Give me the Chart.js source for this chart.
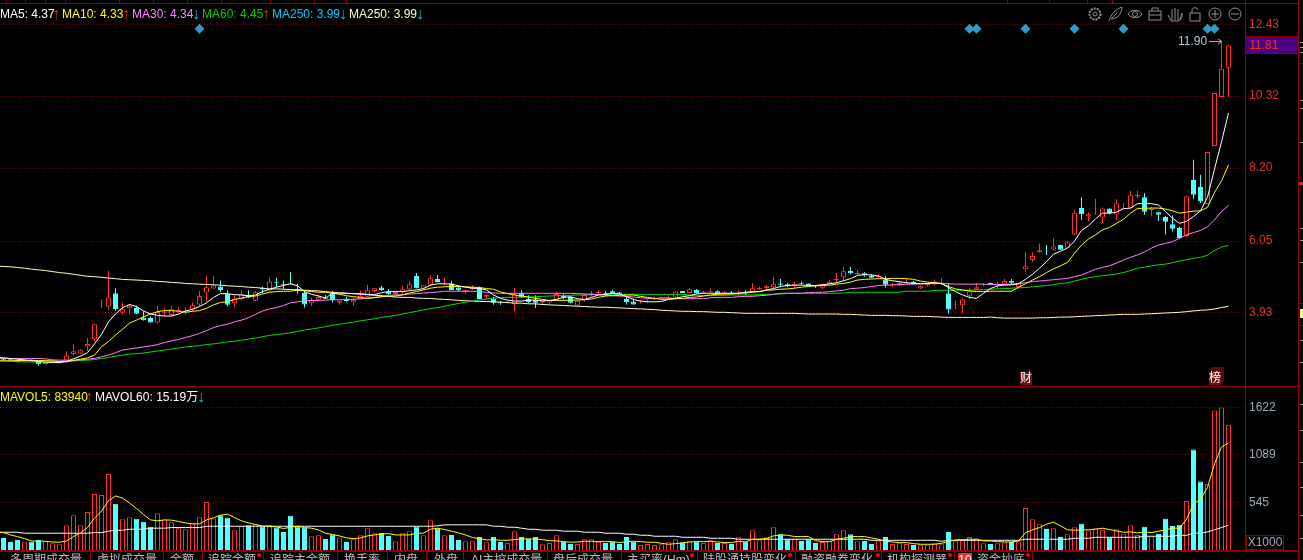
<!DOCTYPE html>
<html>
<head>
<meta charset="utf-8">
<title>K线图</title>
<script src="https://cdn.jsdelivr.net/npm/chart.js@4"></script>
<style>
  html, body { margin: 0; padding: 0; background: #000; width: 1303px; height: 560px; overflow: hidden; }
  body { position: relative; font-family: "Liberation Sans", Arial, "Noto Sans CJK SC", sans-serif; font-size: 12px; }
  canvas { position: absolute; left: 0; display: block; }
  #chart-price { top: 0; }
  #chart-volume { top: 387px; }
  .frame { position: absolute; background: #8a0000; }
  .sep { position: absolute; top: 552px; width: 1px; height: 8px; background: #8a0000; }
  .notch { position: absolute; top: 0; width: 1px; height: 3px; background: #8a0000; }
  .stray { position: absolute; left: 1300px; width: 3px; height: 1px; background: #999; }
  .txt { position: absolute; white-space: nowrap; line-height: 14px; }
  .arrow { position: absolute; white-space: nowrap; line-height: 14px; font-size: 16px; }
  .up { color: #e03030; }
  .down { color: #22b8e0; }
  .tab { position: absolute; top: 553px; height: 7px; overflow: hidden; white-space: nowrap; color: #c0c0c0; line-height: 14px; }
  .dot { position: absolute; top: 553px; width: 4px; height: 4px; border-radius: 2px; background: #f00; }
  .flag { position: absolute; top: 372px; height: 13px; line-height: 13px; width: 12px; text-align: center; color: #fff; background: #6a1010; }
  .icons { position: absolute; left: 1088px; top: 7px; }
</style>
</head>
<body>
<canvas id="chart-price" width="1303" height="386"></canvas>
<canvas id="chart-volume" width="1303" height="164"></canvas>

<div class="frame" style="left:0;top:3px;width:1298px;height:1px"></div>
<div class="frame" style="left:0;top:386px;width:1298px;height:1px"></div>
<div class="frame" style="left:0;top:550px;width:1298px;height:2px"></div>
<div class="frame" style="left:1245px;top:0;width:1px;height:552px"></div>
<div class="frame" style="left:1298px;top:0;width:1px;height:560px"></div>
<div class="frame" style="left:1298px;top:63px;width:5px;height:1px"></div>
<div class="frame" style="left:1298px;top:303px;width:5px;height:1px"></div>
<div class="frame" style="left:1298px;top:325px;width:5px;height:1px"></div>
<div class="frame" style="left:1299px;top:182px;width:4px;height:3px;background:#c03030"></div>
<div class="frame" style="left:1300px;top:309px;width:3px;height:9px;background:#ffff80"></div>

<div class="stray" style="top:42px"></div><div class="stray" style="top:47px"></div><div class="stray" style="top:52px"></div>
<div class="stray" style="top:100px"></div><div class="stray" style="top:108px"></div><div class="stray" style="top:142px"></div>
<div class="stray" style="top:228px"></div><div class="stray" style="top:240px"></div><div class="stray" style="top:262px"></div>
<div class="stray" style="top:340px"></div><div class="stray" style="top:362px"></div><div class="stray" style="top:404px"></div>
<div class="stray" style="top:430px"></div><div class="stray" style="top:462px"></div><div class="stray" style="top:487px"></div>
<div class="stray" style="top:515px"></div><div class="stray" style="top:538px"></div>

<div class="notch" style="left:6px"></div><div class="notch" style="left:25px"></div><div class="notch" style="left:45px"></div>
<div class="notch" style="left:65px"></div><div class="notch" style="left:119px"></div><div class="notch" style="left:153px"></div>
<div class="notch" style="left:187px"></div><div class="notch" style="left:221px"></div><div class="notch" style="left:270px"></div>
<div class="notch" style="left:314px"></div><div class="notch" style="left:346px"></div><div class="notch" style="left:1007px"></div>
<div class="notch" style="left:1049px"></div><div class="notch" style="left:1087px"></div><div class="notch" style="left:1112px"></div>

<div class="txt" style="left:0;top:7px;color:#fff">MA5: 4.37</div><div class="arrow up" style="left:52px;top:7px">↑</div>
<div class="txt" style="left:62px;top:7px;color:#ff0">MA10: 4.33</div><div class="arrow up" style="left:122px;top:7px">↑</div>
<div class="txt" style="left:132px;top:7px;color:#ff80ff">MA30: 4.34</div><div class="arrow down" style="left:192px;top:7px">↓</div>
<div class="txt" style="left:202px;top:7px;color:#00d000">MA60: 4.45</div><div class="arrow up" style="left:262px;top:7px">↑</div>
<div class="txt" style="left:272px;top:7px;color:#00c8ff">MA250: 3.99</div><div class="arrow down" style="left:339px;top:7px">↓</div>
<div class="txt" style="left:349px;top:7px;color:#ffffc8">MA250: 3.99</div><div class="arrow down" style="left:416px;top:7px">↓</div>

<div class="txt" style="left:0;top:390px;color:#ff0">MAVOL5: 83940</div><div class="arrow up" style="left:85px;top:390px">↑</div>
<div class="txt" style="left:95px;top:390px;color:#fff">MAVOL60: 15.19万</div><div class="arrow down" style="left:197px;top:390px">↓</div>

<div class="txt" style="left:1178px;top:34px;color:#b4c4d8">11.90</div>
<svg style="position:absolute;left:1208px;top:38px" width="15" height="7"><path d="M1 3.500H14M10 1L14 3.500L10 6" stroke="#aaa" fill="none"/></svg>

<div class="txt" style="left:1246px;top:36px;width:52px;height:16px;line-height:16px;background:#4b0082;border-top:1px solid #8a0000;border-bottom:1px solid #8a0000;color:#e03030;text-indent:3px">11.81</div>
<div class="txt" style="left:1246px;top:535px;width:36px;height:13px;line-height:13px;border:1px solid #8a0000;color:#9aa8b8;text-align:center">X1000</div>

<div class="frame" style="left:1211px;top:367px;width:13px;height:15px;background:#5a0c0c"></div>
<div class="flag" style="left:1020px">财</div>
<div class="flag" style="left:1209px">榜</div>

<svg class="icons" width="156" height="16" fill="none" stroke="#909090">
  <circle cx="7" cy="7" r="5.500" stroke-width="2" stroke-dasharray="2 1"/><circle cx="7" cy="7" r="2"/>
  <path d="M21 14C23 7 28 2 34 0C34 7 29 12 23 12M23 12L29 6"/>
  <path d="M40 7C43 2 51 2 54 7C51 12 43 12 40 7Z"/><circle cx="47" cy="7" r="2.500"/>
  <rect x="61" y="4" width="12" height="9"/><path d="M64 4V1H70V4M61 8H73"/>
  <path d="M83 14L80 8M84 13V2M87 13V1M90 13V2M92 13L94 6V10L91 14H83"/>
  <rect x="102" y="6" width="10" height="8"/><path d="M104 6V3C104 0 110 0 110 3"/>
  <circle cx="127" cy="7" r="6"/><path d="M123 7H131M127 3V11"/>
  <circle cx="147" cy="7" r="6"/><path d="M143 7H151"/>
</svg>

<div class="tab" style="left:10px">多周期成交量</div>
<div class="tab" style="left:97px">虚拟成交量</div>
<div class="tab" style="left:170px">金额</div>
<div class="tab" style="left:208px">追踪金额</div><div class="dot" style="left:257px"></div>
<div class="tab" style="left:270px">追踪主金额</div>
<div class="tab" style="left:344px">换手率</div>
<div class="tab" style="left:394px">内盘</div>
<div class="tab" style="left:434px">外盘</div>
<div class="tab" style="left:471px">AI主控成交量</div>
<div class="tab" style="left:553px">盘后成交量</div>
<div class="tab" style="left:627px">主买率(Hm)</div><div class="dot" style="left:690px"></div>
<div class="tab" style="left:703px">陆股通持股变化</div><div class="dot" style="left:788px"></div>
<div class="tab" style="left:801px">融资融券变化</div><div class="dot" style="left:876px"></div>
<div class="tab" style="left:887px">机构探测器</div><div class="dot" style="left:948px"></div>
<div class="tab" style="left:958px;width:14px;background:#f03030;color:#fff;text-align:center">10</div>
<div class="tab" style="left:977px">资金抄底</div><div class="dot" style="left:1026px"></div>

<div class="sep" style="left:90px"></div><div class="sep" style="left:163px"></div><div class="sep" style="left:202px"></div>
<div class="sep" style="left:263px"></div><div class="sep" style="left:337px"></div><div class="sep" style="left:387px"></div>
<div class="sep" style="left:426px"></div><div class="sep" style="left:463px"></div><div class="sep" style="left:547px"></div>
<div class="sep" style="left:621px"></div><div class="sep" style="left:697px"></div><div class="sep" style="left:795px"></div>
<div class="sep" style="left:881px"></div><div class="sep" style="left:954px"></div><div class="sep" style="left:1032px"></div>

<script>
// K line data, oldest day first.
// The first day sits just left of the window, only the MA lines reach in from it.
var opens = [2.60,2.59,2.57,2.55,2.50,2.56,2.49,2.43,2.51,2.45,2.53,
  2.72,2.74,2.94,3.16,4.32,4.12,4.51,3.94,4.07,4.08,
  3.80,3.78,3.65,3.94,3.87,3.98,3.97,4.03,4.18,4.53,
  4.65,4.71,4.50,4.22,4.34,4.46,4.29,4.67,4.59,4.85,
  4.79,4.80,4.64,4.52,4.21,4.32,4.39,4.51,4.23,4.34,
  4.25,4.33,4.41,4.58,4.68,4.56,4.49,4.55,4.63,5.02,
  4.65,4.76,4.93,4.82,4.80,4.68,4.58,4.63,4.68,4.41,
  4.36,4.25,4.22,4.19,4.51,4.34,4.31,4.24,4.24,4.32,
  4.44,4.40,4.15,4.31,4.48,4.52,4.51,4.57,4.53,4.34,
  4.27,4.22,4.25,4.34,4.35,4.36,4.39,4.58,4.52,4.61,
  4.51,4.54,4.57,4.48,4.53,4.53,4.55,4.54,4.64,4.66,
  4.69,4.80,4.78,4.73,4.81,4.80,4.73,4.67,4.79,4.90,
  4.98,5.17,5.08,5.10,5.02,4.98,4.92,4.72,4.76,4.81,
  4.85,4.65,4.75,4.77,4.81,4.51,4.17,4.16,4.44,4.62,
  4.76,4.81,4.76,4.79,4.87,4.69,5.22,5.49,5.72,5.76,
  5.80,5.93,5.85,6.24,7.02,6.77,6.83,6.74,7.01,6.83,
  7.00,7.01,7.36,7.34,6.96,6.90,6.76,6.54,6.43,6.20,
  7.85,7.64,7.14,8.85,10.29,11.15];
var closes = [2.59,2.55,2.53,2.48,2.54,2.50,2.42,2.47,2.53,2.48,2.68,
  2.80,2.83,3.02,3.60,4.33,4.39,4.05,4.04,4.14,3.91,
  3.72,3.65,3.96,3.97,4.04,4.02,4.00,4.16,4.43,4.69,
  4.74,4.61,4.17,4.36,4.48,4.39,4.54,4.62,4.86,4.82,
  4.76,4.78,4.58,4.18,4.31,4.40,4.35,4.31,4.30,4.28,
  4.32,4.44,4.60,4.66,4.61,4.48,4.55,4.63,4.78,4.66,
  4.75,4.95,4.84,4.83,4.61,4.61,4.61,4.69,4.34,4.46,
  4.23,4.22,4.24,4.48,4.39,4.25,4.23,4.28,4.31,4.49,
  4.39,4.23,4.29,4.46,4.51,4.55,4.47,4.51,4.50,4.25,
  4.18,4.24,4.27,4.37,4.37,4.39,4.56,4.52,4.63,4.51,
  4.54,4.57,4.50,4.54,4.51,4.56,4.51,4.66,4.67,4.72,
  4.79,4.76,4.72,4.78,4.79,4.75,4.72,4.78,4.86,4.93,
  5.16,5.10,5.11,5.04,4.97,5.03,4.76,4.74,4.81,4.83,
  4.79,4.72,4.79,4.85,4.83,4.03,4.19,4.33,4.57,4.69,
  4.78,4.77,4.79,4.87,4.82,4.81,5.31,5.61,5.78,5.75,
  5.89,5.79,6.01,6.88,6.84,6.84,6.84,7.01,6.87,7.16,
  7.02,7.40,7.41,6.91,6.99,6.82,6.62,6.41,6.14,7.37,
  7.41,7.21,8.67,10.41,11.12,11.81];
var highs = [2.61,2.59,2.57,2.55,2.57,2.56,2.49,2.50,2.54,2.49,2.80,
  3.02,2.86,3.19,3.60,4.33,5.17,4.66,4.24,4.20,4.15,
  3.98,3.83,4.14,4.08,4.14,4.10,4.09,4.24,4.58,5.02,
  5.02,4.89,4.60,4.45,4.60,4.60,4.58,4.70,4.97,4.97,
  4.89,5.14,4.79,4.61,4.39,4.48,4.46,4.58,4.30,4.41,
  4.39,4.60,4.76,4.66,4.73,4.64,4.55,4.73,4.87,5.11,
  4.75,5.04,5.05,4.96,4.87,4.74,4.61,4.75,4.71,4.46,
  4.41,4.28,4.30,4.67,4.61,4.45,4.45,4.29,4.31,4.55,
  4.50,4.41,4.31,4.48,4.58,4.60,4.58,4.61,4.55,4.41,
  4.35,4.31,4.34,4.41,4.41,4.46,4.58,4.58,4.66,4.64,
  4.58,4.66,4.60,4.58,4.58,4.61,4.60,4.81,4.71,4.76,
  4.99,4.93,4.81,4.84,4.86,4.80,4.74,4.79,4.92,5.11,
  5.29,5.29,5.20,5.13,5.08,5.08,5.02,4.82,4.88,4.94,
  4.87,4.74,4.80,4.92,4.96,4.80,4.30,4.38,4.68,4.80,
  4.81,4.82,4.84,4.93,4.93,4.81,5.72,5.72,5.98,5.93,
  6.13,5.93,6.04,6.97,7.34,6.90,7.29,7.04,7.01,7.28,
  7.18,7.52,7.53,7.46,7.06,6.90,6.79,6.81,6.47,7.37,
  8.44,8.00,8.67,10.41,11.90,11.84];
var lows = [2.58,2.54,2.53,2.48,2.48,2.50,2.38,2.41,2.50,2.44,2.45,
  2.68,2.72,2.80,3.11,4.07,4.02,3.99,3.88,3.88,3.90,
  3.71,3.64,3.61,3.84,3.84,3.94,3.88,3.98,4.12,4.27,
  4.64,4.55,4.12,4.12,4.31,4.37,4.28,4.51,4.56,4.69,
  4.64,4.77,4.50,4.09,4.14,4.30,4.34,4.24,4.17,4.27,
  4.14,4.33,4.39,4.54,4.58,4.47,4.46,4.49,4.59,4.65,
  4.61,4.73,4.83,4.74,4.60,4.56,4.49,4.61,4.33,4.34,
  4.17,4.17,4.21,3.99,4.38,4.22,4.08,4.15,4.21,4.31,
  4.33,4.22,4.13,4.27,4.41,4.48,4.43,4.50,4.49,4.18,
  4.17,4.21,4.22,4.31,4.31,4.33,4.33,4.52,4.51,4.50,
  4.50,4.53,4.49,4.45,4.50,4.45,4.46,4.53,4.61,4.61,
  4.66,4.69,4.69,4.66,4.76,4.74,4.67,4.64,4.78,4.83,
  4.88,5.07,5.06,5.00,4.95,4.96,4.68,4.69,4.73,4.80,
  4.78,4.64,4.72,4.74,4.76,3.91,4.05,3.93,4.34,4.61,
  4.71,4.76,4.65,4.75,4.78,4.66,5.14,5.43,5.71,5.64,
  5.77,5.79,5.83,6.23,6.67,6.64,6.83,6.58,6.84,6.67,
  6.99,7.00,7.30,6.82,6.77,6.65,6.24,6.33,6.12,6.16,
  7.29,7.17,7.14,8.85,10.29,10.29];

var ma5 = [2.62,2.61,2.59,2.57,2.55,2.53,2.50,2.48,2.47,2.47,2.50,2.58,2.66,2.76,3.02,3.30,3.67,3.90,4.09,4.18,4.12,3.99,3.90,3.86,3.84,3.84,3.90,3.99,4.04,4.12,4.23,4.39,4.50,4.50,4.47,4.46,4.43,4.46,4.56,4.63,4.69,4.74,4.79,4.73,4.56,4.48,4.43,4.37,
  4.51,4.52,4.51,4.50,4.49,4.48,4.47,4.53,4.56,4.56,4.56,4.59,4.61,4.65,4.75,4.79,4.79,4.78,4.73,4.69,4.66,4.65,4.61,4.46,4.36,4.31,4.28,4.28,4.31,4.31,4.29,4.30,4.33,4.39,4.41,4.35,4.33,4.39,4.46,4.48,4.51,4.49,4.41,4.33,4.28,4.26,4.26,
  4.27,4.33,4.36,4.41,4.44,4.49,4.51,4.51,4.51,4.51,4.51,4.51,4.54,4.56,4.56,4.61,4.65,4.71,4.74,4.75,4.75,4.74,4.74,4.76,4.79,4.82,4.88,4.94,5.04,5.06,5.05,5.02,4.92,4.88,4.85,4.82,4.80,4.79,4.80,4.82,4.80,4.68,4.56,4.46,4.39,4.36,4.51,
  4.65,4.73,4.75,4.76,4.79,4.92,5.07,5.25,5.44,5.66,5.75,5.84,6.05,6.36,6.50,6.70,6.87,6.87,6.90,7.00,7.02,7.15,7.15,7.15,7.11,6.92,6.72,6.57,6.63,6.77,6.94,7.34,8.17,8.97,9.82];
var ma10 = [2.52,2.52,2.52,2.53,2.53,2.53,2.53,2.53,2.52,2.50,2.50,2.53,2.57,2.61,2.69,2.94,3.09,3.28,3.45,3.63,3.72,3.82,3.90,3.97,4.00,4.00,3.98,3.95,3.98,4.00,4.07,4.17,4.24,4.26,4.33,4.37,4.41,4.43,4.49,4.54,4.56,4.57,4.57,4.61,4.59,4.56,4.54,4.54,
  4.51,4.48,4.44,4.41,4.39,4.36,4.38,4.41,4.42,4.43,4.46,4.52,4.56,4.61,4.66,4.69,4.70,4.71,4.71,4.70,4.69,4.68,4.65,4.63,4.55,4.50,4.46,4.43,4.40,4.36,4.33,4.30,4.30,4.30,4.31,4.31,4.32,4.34,4.39,4.43,4.44,4.45,4.46,4.46,4.42,4.39,4.36,
  4.33,4.34,4.35,4.36,4.39,4.40,4.43,4.46,4.48,4.49,4.49,4.51,4.52,4.54,4.56,4.60,4.61,4.63,4.64,4.66,4.69,4.71,4.73,4.74,4.75,4.78,4.80,4.84,4.90,4.92,4.93,4.94,4.94,4.95,4.95,4.94,4.92,4.87,4.84,4.82,4.79,4.71,4.64,4.61,4.58,4.56,4.56,
  4.57,4.57,4.57,4.57,4.69,4.79,4.90,5.00,5.12,5.23,5.32,5.42,5.69,5.93,6.11,6.23,6.38,6.45,6.57,6.69,6.87,7.01,7.01,7.02,7.02,6.99,6.94,6.87,6.90,6.93,6.94,7.04,7.48,7.82,8.29];
var ma30 = [2.60,2.59,2.59,2.59,2.59,2.59,2.59,2.58,2.55,2.54,2.54,2.54,2.55,2.57,2.59,2.64,2.69,2.76,2.84,2.87,2.90,2.93,2.96,3.00,3.06,3.11,3.15,3.21,3.26,3.33,3.41,3.50,3.56,3.60,3.67,3.72,3.79,3.89,3.99,4.05,4.09,4.15,4.23,4.26,4.29,4.30,4.30,4.31,
  4.32,4.32,4.33,4.33,4.35,4.37,4.39,4.41,4.45,4.46,4.47,4.49,4.50,4.52,4.53,4.55,4.57,4.57,4.57,4.57,4.57,4.56,4.54,4.52,4.51,4.51,4.51,4.51,4.51,4.51,4.51,4.51,4.51,4.51,4.51,4.50,4.49,4.48,4.47,4.46,4.44,4.43,4.42,4.40,4.38,4.36,4.35,
  4.38,4.37,4.36,4.35,4.35,4.35,4.35,4.38,4.39,4.39,4.39,4.41,4.42,4.42,4.44,4.45,4.48,4.51,4.51,4.51,4.51,4.53,4.54,4.54,4.56,4.58,4.60,4.65,4.66,4.68,4.71,4.74,4.75,4.76,4.76,4.78,4.78,4.79,4.80,4.80,4.80,4.79,4.78,4.78,4.78,4.78,4.78,
  4.77,4.77,4.77,4.78,4.79,4.82,4.86,4.87,4.89,4.91,4.93,4.95,5.00,5.05,5.13,5.22,5.27,5.32,5.40,5.49,5.57,5.64,5.73,5.84,5.93,5.98,6.03,6.13,6.23,6.30,6.36,6.47,6.67,6.92,7.10];
var ma60 = [2.53,2.52,2.51,2.50,2.49,2.49,2.49,2.49,2.50,2.50,2.51,2.52,2.53,2.54,2.56,2.59,2.62,2.66,2.69,2.72,2.73,2.75,2.78,2.81,2.84,2.87,2.90,2.93,2.95,2.97,3.00,3.02,3.05,3.08,3.10,3.13,3.16,3.19,3.23,3.27,3.29,3.32,3.35,3.39,3.43,3.46,3.49,3.53,
  3.57,3.60,3.63,3.66,3.70,3.73,3.76,3.80,3.83,3.86,3.90,3.94,3.98,4.02,4.06,4.09,4.13,4.17,4.21,4.25,4.28,4.31,4.34,4.37,4.38,4.39,4.39,4.40,4.40,4.41,4.42,4.43,4.44,4.44,4.45,4.46,4.46,4.47,4.47,4.47,4.47,4.48,4.48,4.48,4.48,4.48,4.48,
  4.48,4.48,4.48,4.48,4.46,4.45,4.44,4.44,4.45,4.45,4.46,4.46,4.46,4.46,4.47,4.48,4.48,4.49,4.51,4.51,4.51,4.51,4.51,4.51,4.51,4.51,4.52,4.54,4.54,4.54,4.54,4.54,4.54,4.54,4.54,4.57,4.57,4.57,4.57,4.59,4.60,4.60,4.60,4.60,4.60,4.61,4.62,
  4.63,4.64,4.65,4.66,4.67,4.68,4.70,4.72,4.74,4.76,4.80,4.82,4.87,4.92,4.97,5.00,5.03,5.05,5.08,5.12,5.18,5.25,5.28,5.32,5.35,5.37,5.41,5.46,5.50,5.54,5.57,5.63,5.77,5.87,5.92];
var ma250 = [5.31,5.30,5.29,5.27,5.25,5.22,5.20,5.18,5.15,5.12,5.10,5.07,5.04,5.01,5.00,4.98,4.96,4.94,4.92,4.91,4.90,4.89,4.88,4.86,4.85,4.83,4.82,4.80,4.79,4.78,4.77,4.76,4.75,4.73,4.72,4.71,4.69,4.68,4.66,4.64,4.64,4.63,4.62,4.61,4.60,4.59,4.58,4.56,
  4.54,4.52,4.51,4.50,4.49,4.47,4.45,4.44,4.42,4.40,4.39,4.39,4.37,4.36,4.36,4.34,4.33,4.32,4.30,4.29,4.28,4.27,4.27,4.26,4.25,4.24,4.22,4.22,4.20,4.20,4.18,4.17,4.16,4.15,4.14,4.13,4.12,4.11,4.10,4.10,4.09,4.08,4.07,4.06,4.05,4.04,4.03,
  4.01,4.00,3.99,3.98,3.98,3.97,3.97,3.96,3.95,3.95,3.94,3.93,3.92,3.92,3.92,3.92,3.92,3.92,3.92,3.92,3.91,3.90,3.90,3.90,3.90,3.90,3.89,3.89,3.88,3.87,3.86,3.86,3.86,3.85,3.85,3.84,3.83,3.83,3.83,3.82,3.81,3.80,3.80,3.80,3.80,3.80,3.80,
  3.81,3.79,3.78,3.78,3.78,3.78,3.78,3.79,3.79,3.80,3.81,3.81,3.82,3.83,3.84,3.85,3.86,3.87,3.88,3.89,3.89,3.89,3.90,3.91,3.92,3.93,3.94,3.95,3.97,3.99,4.01,4.02,4.05,4.09,4.13];

// volumes are in thousands, same as the X1000 box
var volumes = [150,148,102,125,98,106,125,110,87,76,292,
  405,292,440,644,633,872,534,360,383,364,
  330,273,428,356,326,258,246,315,383,553,
  368,405,375,235,284,292,303,273,292,265,
  216,398,277,262,167,178,136,186,152,102,
  133,178,258,201,205,171,110,201,224,277,
  178,349,258,178,182,125,110,110,159,99,
  159,102,91,224,159,140,159,76,91,178,
  102,80,80,133,133,106,91,106,80,159,
  106,68,80,68,76,99,133,99,110,110,
  91,121,91,91,80,155,106,235,121,155,
  269,190,133,133,114,133,91,102,114,190,
  235,190,110,114,80,110,159,80,87,80,
  68,72,72,87,76,216,110,125,159,140,
  87,80,87,95,102,110,485,360,303,250,
  258,159,190,269,307,231,258,239,155,246,
  190,292,182,273,163,193,364,284,296,565,
  1148,785,758,1588,1622,1429];
var mavol5 = [215,208,182,163,140,114,110,110,102,99,114,163,205,265,371,451,569,622,599,542,481,413,352,341,352,349,334,318,307,307,352,375,405,417,379,341,318,299,284,280,273,254,269,280,265,258,239,201,186,171,148,140,148,171,182,193,197,182,182,182,201,201,246,
  258,243,224,205,182,152,140,125,129,121,121,129,136,136,136,129,117,114,106,99,102,110,110,106,106,106,95,106,110,106,99,99,87,76,83,91,102,106,106,110,102,95,95,110,102,133,133,140,171,182,178,163,163,163,117,106,106,133,144,163,163,163,
  148,133,110,102,95,95,83,76,76,76,87,106,125,129,133,133,114,114,106,102,102,114,208,239,265,303,326,284,239,235,239,239,246,258,243,227,212,216,205,216,208,224,239,258,258,360,531,587,720,985,1175,1224];
var mavol60 = [212,212,212,212,201,201,201,201,201,201,201,201,201,201,208,208,224,235,235,246,246,246,258,258,258,265,265,265,265,265,
  280,280,280,280,280,280,280,280,280,280,280,280,280,280,280,280,280,280,280,280,280,280,280,280,280,280,280,280,280,280,280,280,280,
  284,296,296,296,296,296,296,296,280,280,269,269,258,246,246,235,235,235,224,224,224,212,212,212,201,201,201,190,190,178,178,167,167,167,167,155,155,155,155,144,144,144,144,
  133,133,133,133,133,133,133,133,133,133,133,133,133,133,133,133,133,133,133,
  121,121,121,121,121,121,121,121,121,121,110,121,121,121,121,121,121,121,121,121,121,121,
  133,133,133,133,133,133,133,144,144,144,155,155,155,155,155,155,155,167,167,167,167,167,178,178,201,201,216,239,265,292];

var markerDays = [29, 139, 140, 147, 154, 161, 173, 174];
var markerPrice = 12.30;
var priceTicks = [3.93, 6.05, 8.20, 10.32, 12.43];
var volumeTicks = [545, 1089, 1622];

var RED = '#ff3030';
var CYAN = '#55ffff';
var GRID = '#8a0000';
var slotCount = opens.length + 2; // empty room right of the last candle
var categories = Array.from({ length: slotCount }, function(_, i) { return i; });

function pairs(a, b) {
  return a.map(function(v, i) { return [v, b[i]]; });
}

function candleColors() {
  return opens.map(function(o, i) { return closes[i] >= o ? RED : CYAN; });
}

function bodyFills() {
  return opens.map(function(o, i) { return closes[i] >= o ? '#000' : CYAN; });
}

function maLine(label, data, color, order) {
  return { type: 'line', label: label, data: data, borderColor: color, borderWidth: 1, pointRadius: 0, tension: 0, order: order };
}

function barSet(label, data, thickness, order) {
  return {
    label: label,
    data: data,
    barThickness: thickness,
    barPercentage: 1,
    categoryPercentage: 1,
    inflateAmount: 0, // the default blurs the 1px outline
    grouped: false,
    order: order
  };
}

function bodySet(label, data, order) {
  var set = barSet(label, data, 5, order);
  set.backgroundColor = bodyFills();
  set.borderColor = candleColors();
  set.borderWidth = 1;
  set.borderSkipped = false;
  return set;
}

function axisY(min, max, tickValues, tickColor, digits) {
  return {
    position: 'right',
    min: min,
    max: max,
    afterBuildTicks: function(scale) {
      scale.ticks = tickValues.map(function(v) { return { value: v }; });
    },
    afterFit: function(scale) {
      scale.width = 57;
      scale.paddingTop = 0;
      scale.paddingBottom = 0;
    },
    border: { display: false, dash: [1, 2] },
    grid: { color: GRID, lineWidth: 1, drawTicks: false, tickLength: 0 },
    ticks: {
      color: tickColor,
      padding: 3,
      autoSkip: false,
      font: { family: '"Liberation Sans", Arial, sans-serif', size: 12 },
      callback: function(v) { return v.toFixed(digits); }
    }
  };
}

function baseOptions(yScale) {
  return {
    responsive: false,
    animation: false,
    events: [],
    layout: { padding: 0, autoPadding: false },
    plugins: { legend: { display: false }, tooltip: { enabled: false } },
    scales: {
      x: { type: 'category', min: 1, offset: true, display: false, grid: { display: false } },
      y: yScale
    }
  };
}

function initPriceChart() {
  var ctx = document.getElementById('chart-price').getContext('2d');
  var opts = baseOptions(axisY(1.78, 13.03, priceTicks, '#e03030', 2));
  opts.layout.padding = { top: 4 };

  var wicks = barSet('wick', pairs(lows, highs), 1, 8);
  wicks.backgroundColor = candleColors();

  new Chart(ctx, {
    type: 'bar',
    data: {
      labels: categories,
      datasets: [
        wicks,
        bodySet('body', pairs(opens, closes), 7),
        maLine('MA250', ma250, '#ffffc8', 5),
        maLine('MA60', ma60, '#00e000', 4),
        maLine('MA30', ma30, '#ff80ff', 3),
        maLine('MA10', ma10, '#ffff00', 2),
        maLine('MA5', ma5, '#ffffff', 1),
        {
          type: 'line',
          label: 'signal',
          data: markerDays.map(function(d) { return { x: d, y: markerPrice }; }),
          showLine: false,
          pointStyle: 'rectRot',
          pointRadius: 5,
          pointBackgroundColor: '#2e9cc8',
          pointBorderWidth: 0,
          order: 0
        }
      ]
    },
    options: opts
  });
}

function initVolumeChart() {
  var ctx = document.getElementById('chart-volume').getContext('2d');

  new Chart(ctx, {
    type: 'bar',
    data: {
      labels: categories,
      datasets: [
        bodySet('VOL', volumes, 3),
        maLine('MAVOL60', mavol60, '#ffffff', 2),
        maLine('MAVOL5', mavol5, '#ffff00', 1)
      ]
    },
    options: baseOptions(axisY(0, 1855, volumeTicks, '#9aa8b8', 0))
  });
}

initPriceChart();
initVolumeChart();
</script>
</body>
</html>
